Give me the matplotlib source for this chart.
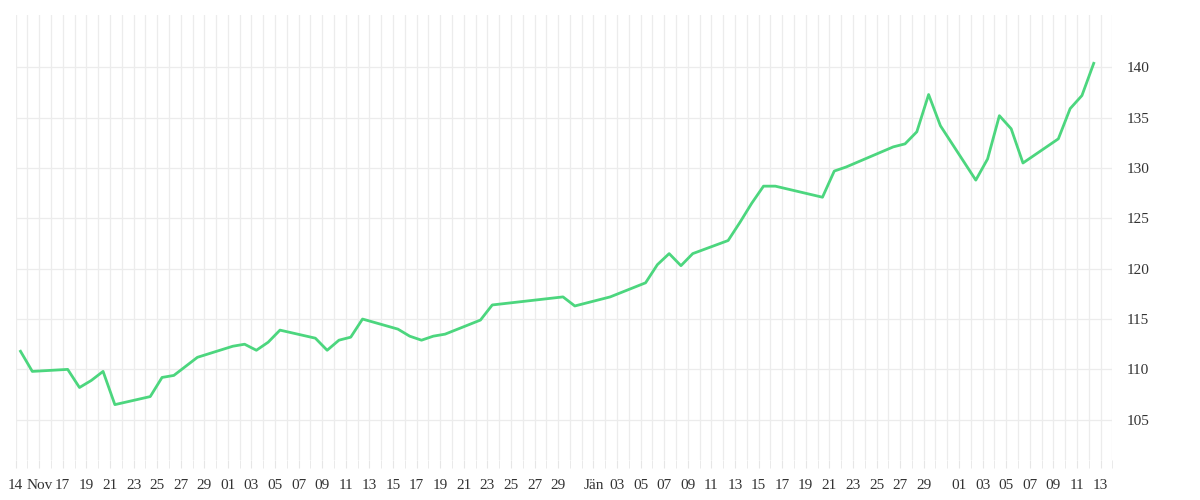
import numpy as np
import pandas as pd
import matplotlib.pyplot as plt
import matplotlib.dates as mdates

# values
dates = ["2019-11-13", "2019-11-14", "2019-11-17", "2019-11-18", "2019-11-19", "2019-11-20",
         "2019-11-21", "2019-11-24", "2019-11-25", "2019-11-26", "2019-11-28", "2019-12-01",
         "2019-12-02", "2019-12-03", "2019-12-04", "2019-12-05", "2019-12-08", "2019-12-09",
         "2019-12-10", "2019-12-11", "2019-12-12", "2019-12-15", "2019-12-16", "2019-12-17",
         "2019-12-18", "2019-12-19", "2019-12-22", "2019-12-23", "2019-12-29", "2019-12-30",
         "2020-01-02", "2020-01-05", "2020-01-06", "2020-01-07", "2020-01-08", "2020-01-09",
         "2020-01-12", "2020-01-13", "2020-01-14", "2020-01-15", "2020-01-16", "2020-01-20",
         "2020-01-21", "2020-01-22", "2020-01-26", "2020-01-27", "2020-01-28", "2020-01-29",
         "2020-01-30", "2020-02-02", "2020-02-03", "2020-02-04", "2020-02-05", "2020-02-06",
         "2020-02-09", "2020-02-10", "2020-02-11", "2020-02-12"]
prices = [111.8, 109.8, 110.0, 108.2, 108.9, 109.8,
          106.5, 107.3, 109.2, 109.4, 111.2, 112.3,
          112.5, 111.9, 112.7, 113.9, 113.1, 111.9,
          112.9, 113.2, 115.0, 114.0, 113.3, 112.9,
          113.3, 113.5, 114.9, 116.4, 117.2, 116.3,
          117.2, 118.6, 120.4, 121.5, 120.3, 121.5,
          122.8, 124.6, 126.5, 128.2, 128.2, 127.1,
          129.7, 130.1, 132.1, 132.4, 133.6, 137.3,
          134.2, 128.8, 130.9, 135.2, 133.9, 130.5,
          132.9, 135.9, 137.2, 140.4]

tick_dates = ["2019-11-13", "2019-11-15"] + \
    [d.strftime("%Y-%m-%d") for d in pd.date_range("2019-11-17", "2019-11-29", freq="2D")] + \
    [d.strftime("%Y-%m-%d") for d in pd.date_range("2019-12-01", "2019-12-29", freq="2D")] + \
    [d.strftime("%Y-%m-%d") for d in pd.date_range("2020-01-01", "2020-01-29", freq="2D")] + \
    [d.strftime("%Y-%m-%d") for d in pd.date_range("2020-02-01", "2020-02-13", freq="2D")]
tick_labels = []
for d in tick_dates:
    if d == "2019-11-13":
        tick_labels.append("14")
    elif d == "2019-11-15":
        tick_labels.append("Nov")
    elif d == "2020-01-01":
        tick_labels.append("Jän")
    else:
        tick_labels.append(d[-2:])

x = pd.to_datetime(dates) + pd.Timedelta(hours=10)

fig = plt.figure(figsize=(12, 5), dpi=100)
ax = fig.add_axes([0.013, 0.08, 0.914, 0.89])
ax.plot(x, prices, color="#4cd67e", linewidth=2.0, zorder=3)

ax.set_xlim(pd.Timestamp("2019-11-13"), pd.Timestamp("2020-02-14"))
ax.set_ylim(101, 145.2)
ax.xaxis.set_minor_locator(mdates.DayLocator())
ax.set_xticks(pd.to_datetime(tick_dates))
ax.set_xticklabels(tick_labels, family="Liberation Serif", fontsize=11, color="#333333")
ax.set_yticks(np.arange(105, 145, 5))
ax.yaxis.tick_right()
for lab in ax.get_yticklabels():
    lab.set_family("Liberation Serif")
ax.tick_params(axis="y", length=0, labelsize=11, labelcolor="#333333", pad=10)
ax.tick_params(axis="x", which="both", length=6, color="#e6e6e6", pad=8)
ax.grid(True, which="both", axis="x", color="#ececec", linewidth=0.9)
ax.grid(True, which="major", axis="y", color="#ececec", linewidth=0.9)
for s in ax.spines.values():
    s.set_visible(False)

fig.savefig("out.png", dpi=100)
